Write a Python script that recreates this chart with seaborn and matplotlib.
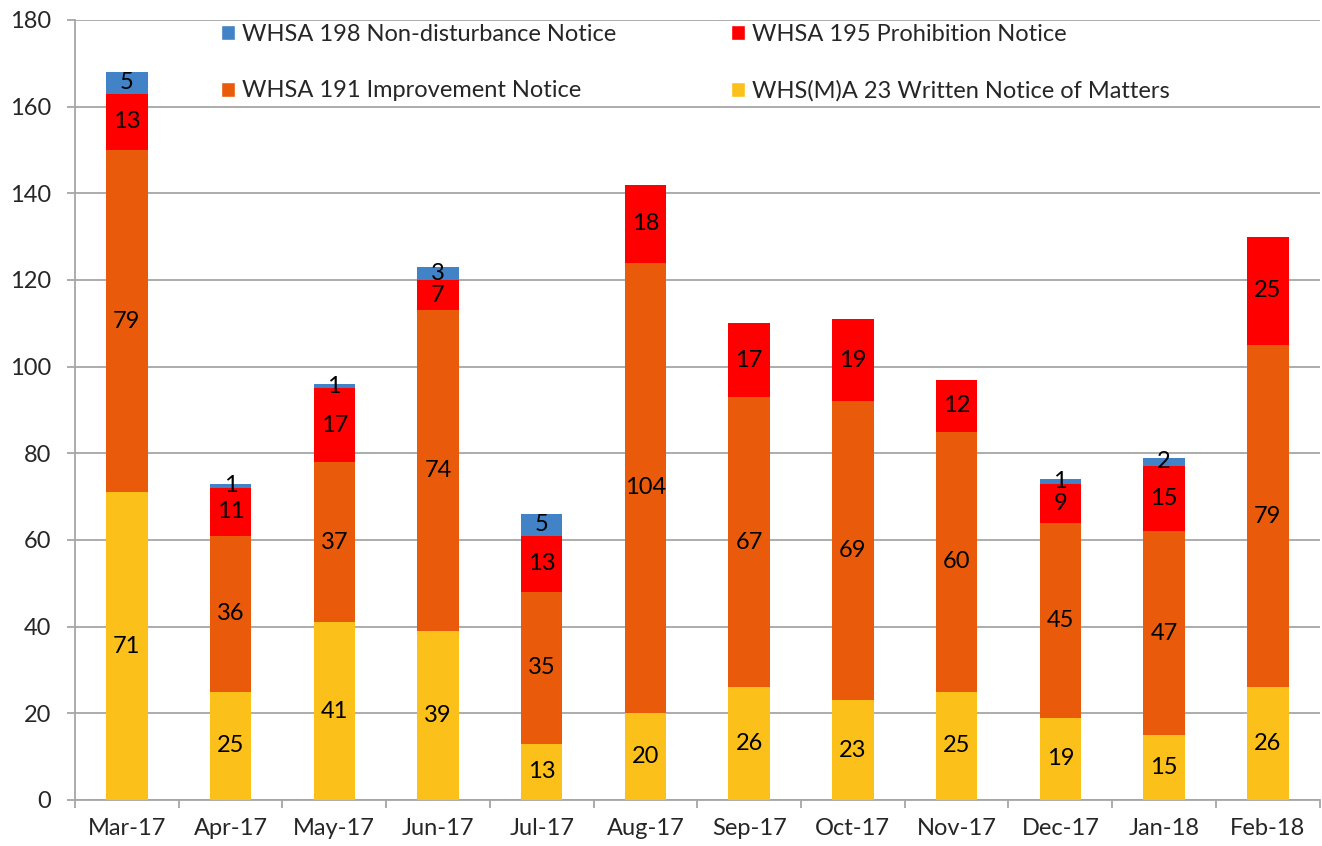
import numpy as np
import pandas as pd
import seaborn as sns
import matplotlib.pyplot as plt
from matplotlib.patches import Patch
from matplotlib.ticker import FixedLocator

months = ['Mar-17', 'Apr-17', 'May-17', 'Jun-17', 'Jul-17', 'Aug-17',
          'Sep-17', 'Oct-17', 'Nov-17', 'Dec-17', 'Jan-18', 'Feb-18']
written = [71, 25, 41, 39, 13, 20, 26, 23, 25, 19, 15, 26]
improvement = [79, 36, 37, 74, 35, 104, 67, 69, 60, 45, 47, 79]
prohibition = [13, 11, 17, 7, 13, 18, 17, 19, 12, 9, 15, 25]
non_disturbance = [5, 1, 1, 3, 5, 0, 0, 0, 0, 1, 2, 0]

series_names = ['WHS(M)A 23 Written Notice of Matters', 'WHSA 191 Improvement Notice',
                'WHSA 195 Prohibition Notice', 'WHSA 198 Non-disturbance Notice']
colors = ['#FCC01A', '#E95B0B', '#FF0000', '#4183C6']

sns.set_style('white')
plt.rcParams['font.family'] = ['Lato', 'DejaVu Sans']

series = [written, improvement, prohibition, non_disturbance]
cum = np.cumsum(np.array(series), axis=0)

fig = plt.figure(figsize=(13.22, 8.46), dpi=100)
ax = fig.add_axes([0.0567, 0.0544, 0.9415, 0.9220])

# stacked look: draw running totals from tallest to shortest
for i in reversed(range(4)):
    df = pd.DataFrame({'month': months, 'value': cum[i]})
    sns.barplot(data=df, x='month', y='value', color=colors[i], width=0.4,
                saturation=1, ax=ax, order=months, zorder=3, linewidth=0)

# segment labels
for i in range(4):
    for j, m in enumerate(months):
        v = series[i][j]
        if v == 0:
            continue
        mid = cum[i][j] - v / 2
        ax.text(j, mid, str(v), ha='center', va='center', fontsize=17,
                color='black', zorder=5)

ax.set_ylim(0, 180)
ax.set_xlim(-0.5, 11.5)
ax.set_yticks(range(0, 181, 20))
ax.set_xlabel('')
ax.set_ylabel('')
ax.yaxis.grid(True, color='#A6A6A6', linewidth=1.3, zorder=0)
ax.set_axisbelow(True)
for s in ['top', 'right']:
    ax.spines[s].set_visible(False)
for s in ['left', 'bottom']:
    ax.spines[s].set_color('#A6A6A6')
    ax.spines[s].set_linewidth(1.3)

ax.tick_params(axis='y', which='major', length=6, width=1.3, color='#A6A6A6',
               labelsize=17, pad=11, direction='out', left=True)
ax.tick_params(axis='x', which='major', length=0, labelsize=17, pad=13)
ax.xaxis.set_minor_locator(FixedLocator(np.arange(-0.5, 12, 1)))
ax.tick_params(axis='x', which='minor', length=6, width=1.3, color='#A6A6A6',
               direction='out', bottom=True)

handles = [Patch(facecolor=colors[k]) for k in [3, 1, 2, 0]]
labels = [series_names[k] for k in [3, 1, 2, 0]]
ax.legend(handles, labels, ncol=2, loc='upper left', bbox_to_anchor=(0.1, 1.022),
          frameon=False, fontsize=17, handlelength=0.6, handleheight=0.6,
          handletextpad=0.3, columnspacing=4.85, labelspacing=1.5)

fig.savefig('out.png', dpi=100)
